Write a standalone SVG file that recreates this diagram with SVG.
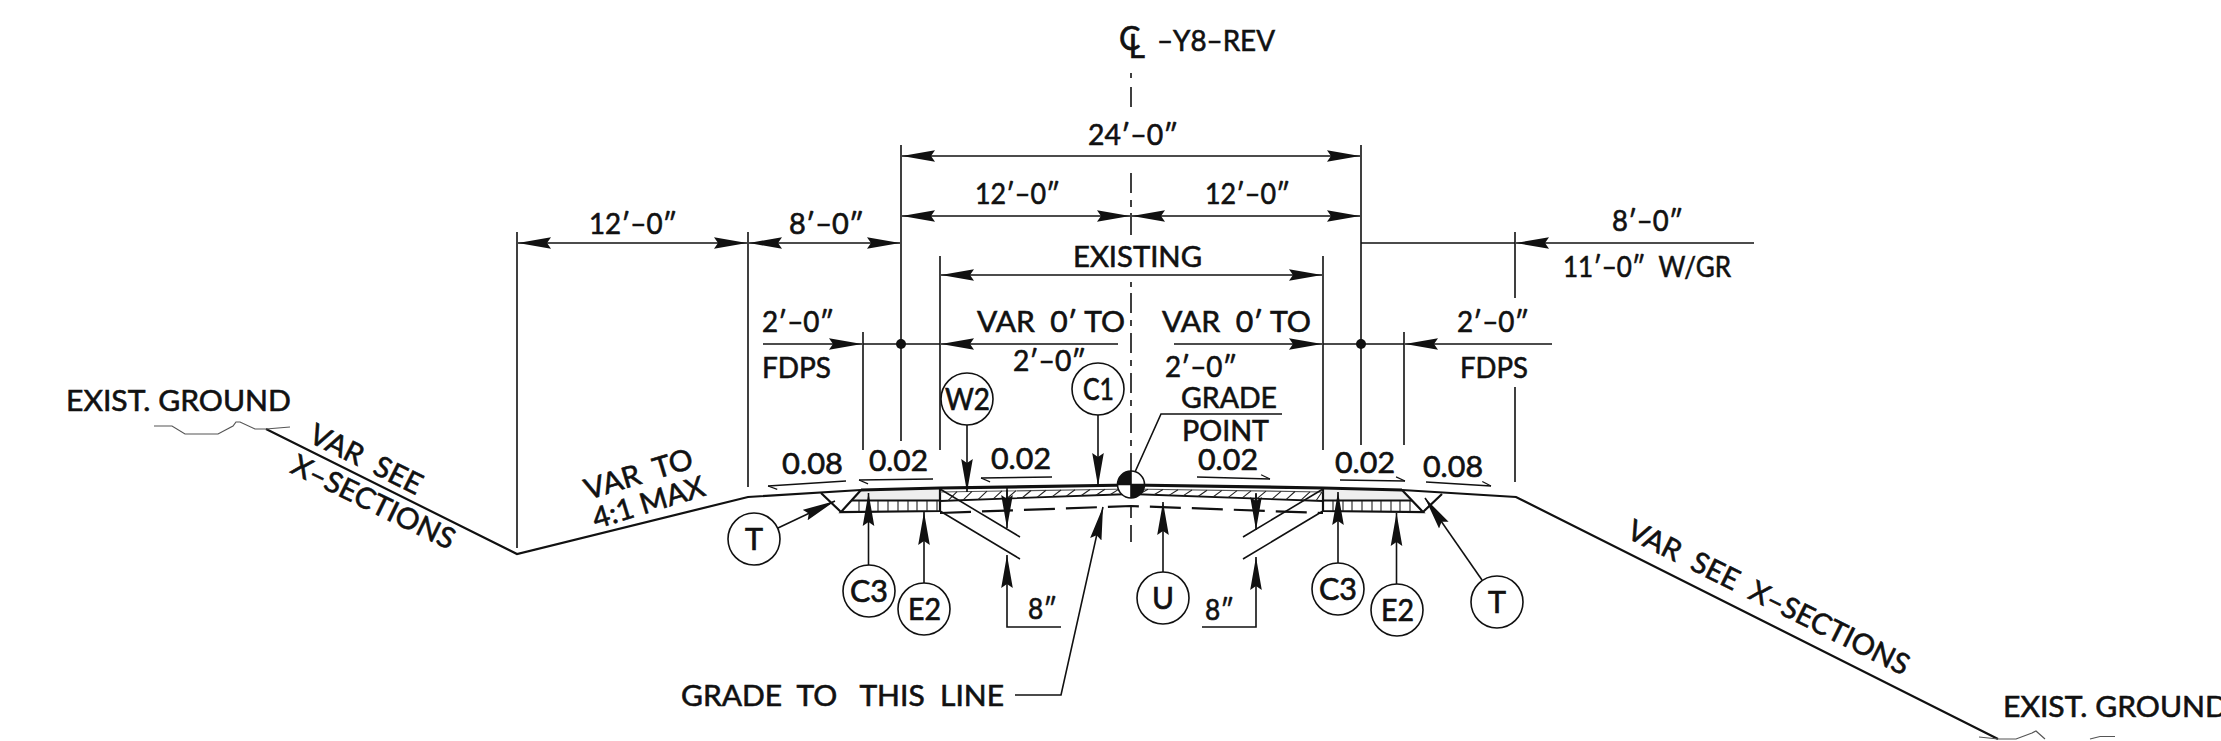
<svg xmlns="http://www.w3.org/2000/svg" width="2221" height="741" viewBox="0 0 2221 741">
<style>
text{font-family:"Lato","Liberation Sans",sans-serif;font-size:29px;fill:#111;stroke:#111;stroke-width:.6;white-space:pre}
.n{font-size:31px;stroke-width:.7}
line,path,polyline,circle{fill:none;stroke:#111;stroke-linecap:butt}
.d{stroke-width:1.6}
.g{stroke-width:2.2}
.l{stroke-width:1.8}
.t{stroke-width:1.2;stroke:#555}
.h{stroke-width:1.1;stroke:#222}
.b{stroke-width:3.2}
.c{fill:#fff;stroke-width:1.6}
.a{marker-end:url(#ar)}
.s{marker-end:url(#ha)}
.f{fill:#111;stroke:none}
</style>
<defs>
<marker id="ar" markerUnits="userSpaceOnUse" markerWidth="36" markerHeight="14" refX="33" refY="7" orient="auto"><path d="M33 7L0 1.2L4 7L0 12.8Z" style="fill:#111;stroke:none"/></marker>
<marker id="ha" markerUnits="userSpaceOnUse" markerWidth="12" markerHeight="8" refX="10" refY="5" orient="auto"><path d="M10 5L1 1" style="fill:none;stroke:#111;stroke-width:1.2"/></marker>
</defs>
<rect width="2221" height="741" fill="#fff"/>
<g id="ground">
<path class="g" d="M266 429L517 554L748 497L861 490"/>
<path class="t" d="M154 426H172L185 434H218L233 426L236 422H240L255 429H266L290 427"/>
<path class="g" d="M1402 490L1516 497L1998 739"/>
<path class="t" d="M1979 737L1998 739H2016L2032 733L2036 731L2045 739M2090 739L2100 736.5H2115"/>
</g>
<g id="pavement">
<path style="fill:#eee;stroke:none" d="M861 490L940 488V500.5H851ZM1323 488L1402 490L1412 500.5H1323Z"/>
<path class="b" d="M861 490L940 488L1131 485L1323 488L1402 490"/>
<path class="g" d="M861 490L841 512L940 511V487M821 493L841 512M1402 490L1423 512L1323 511V487M1423 512L1442 494"/>
<path class="l" d="M852 500.5H940M1323 500.5H1412"/>
<path class="h" d="M859 501V511M869 501V511M878 501V511M888 501V511M898 501V511M908 501V511M917 501V511M927 501V511M937 501V511M1333 501V511M1343 501V511M1352 501V511M1362 501V511M1372 501V511M1381 501V511M1391 501V511M1400 501V511M1410 501V511"/>
<path class="t" d="M940 492L1131 489L1323 492"/>
<path class="l" d="M940 501L1131 494L1323 501"/>
<path class="h" d="M948 500.7L957 491.6M963 500.2L972 491.4M978 499.6L987 491.1M993 499.1L1002 490.9M1007 498.5L1016 490.7M1022 498L1031 490.5M1037 497.4L1046 490.2M1052 496.9L1061 490M1066 496.4L1075 489.8M1081 495.8L1090 489.5M1096 495.3L1105 489.3M1110 494.8L1119 489.1M1125 494.2L1134 488.9M1139 494.3L1148 489.3M1154 494.8L1163 489.5M1169 495.4L1178 489.7M1183 495.9L1192 490M1198 496.5L1207 490.2M1213 497L1222 490.4M1228 497.6L1237 490.6M1242 498.1L1251 490.9M1257 498.6L1266 491.1M1272 499.2L1281 491.3M1286 499.7L1295 491.5M1301 500.2L1310 491.8M1316 500.8L1322 492"/>
<path class="g" stroke-dasharray="31 11" d="M940 513L1131 506L1323 513"/>
<path class="d" d="M940 489L1020 537M940 511L1020 559M1323 489L1243 537M1323 511L1243 559"/>
</g>
<g id="centerline">
<path class="d" d="M1131 73V78M1131 87V107M1131 173V193M1131 200V207M1131 213V235M1131 282V287M1131 293V313M1131 320V326M1131 333V353M1131 360V366M1131 373V393M1131 400V406M1131 413V433M1131 440V446M1131 453V473M1131 505V518M1131 525V542"/>
</g>
<g id="connectors">
<path class="d" d="M517 232V548M748 232V487M863 332V450M901 145V441M940 256V450M1323 256V450M1361 145V445M1404 332V445M1515 232V298M1515 387V482"/>
<line class="d a" x1="633" y1="243" x2="518" y2="243"/>
<line class="d a" x1="633" y1="243" x2="747" y2="243"/>
<line class="d a" x1="825" y1="243" x2="749" y2="243"/>
<line class="d a" x1="825" y1="243" x2="900" y2="243"/>
<line class="d a" x1="1130" y1="156" x2="902" y2="156"/>
<line class="d a" x1="1130" y1="156" x2="1360" y2="156"/>
<line class="d a" x1="1015" y1="216" x2="902" y2="216"/>
<line class="d a" x1="1015" y1="216" x2="1130" y2="216"/>
<line class="d a" x1="1245" y1="216" x2="1132" y2="216"/>
<line class="d a" x1="1245" y1="216" x2="1360" y2="216"/>
<line class="d a" x1="1130" y1="275" x2="941" y2="275"/>
<line class="d a" x1="1130" y1="275" x2="1322" y2="275"/>
<path class="d" d="M863 344H940M1323 344H1404M1361 243H1515"/>
<line class="d a" x1="1754" y1="243" x2="1516" y2="243"/>
<line class="d a" x1="763" y1="344" x2="862" y2="344"/>
<line class="d a" x1="1118" y1="344" x2="941" y2="344"/>
<line class="d a" x1="1174" y1="344" x2="1322" y2="344"/>
<line class="d a" x1="1552" y1="344" x2="1405" y2="344"/>
<circle class="f" cx="901" cy="344" r="5"/>
<circle class="f" cx="1361" cy="344" r="5"/>
<line class="d a" x1="967" y1="425" x2="967" y2="492"/>
<line class="d a" x1="1098" y1="415" x2="1098" y2="486"/>
<line class="d a" x1="868.500" y1="565" x2="868.500" y2="493"/>
<line class="d a" x1="924" y1="583" x2="924" y2="512"/>
<line class="d a" x1="778" y1="528" x2="835" y2="501"/>
<line class="d a" x1="1163" y1="572" x2="1163" y2="502"/>
<line class="d a" x1="1338" y1="563" x2="1338" y2="492"/>
<line class="d a" x1="1396.500" y1="584" x2="1396.500" y2="513"/>
<line class="d a" x1="1482" y1="580" x2="1425" y2="498"/>
<path class="d" d="M1007 488V500"/>
<line class="d a" x1="1007" y1="490" x2="1007" y2="528"/>
<path class="d a" d="M1061 627H1007V555"/>
<path class="d" d="M1256 493V505"/>
<line class="d a" x1="1256" y1="494" x2="1256" y2="530"/>
<path class="d a" d="M1202 627H1256V557"/>
<path class="d a" d="M1015 695H1061L1103 507"/>
<path class="d" d="M1282 414H1161L1135 472"/>
<line class="d s" x1="846" y1="481" x2="768" y2="486"/>
<line class="d s" x1="933" y1="479" x2="859" y2="480"/>
<line class="d s" x1="1052" y1="477" x2="981" y2="478"/>
<line class="d s" x1="1197" y1="477" x2="1270" y2="479"/>
<line class="d s" x1="1340" y1="480" x2="1405" y2="481"/>
<line class="d s" x1="1426" y1="482" x2="1491" y2="486"/>
</g>
<g id="grade-point">
<circle cx="1131" cy="484.500" r="13.500" style="fill:#fff;stroke-width:1.6"/>
<path class="f" d="M1131 484.500V471A13.500 13.500 0 0 0 1117.500 484.500ZM1131 484.500H1144.500A13.500 13.500 0 0 1 1131 498Z"/>
<path class="d" d="M1117.500 484.500H1144.500M1131 471V498"/>
</g>
<g id="node-w2"><circle class="c" cx="967" cy="399" r="26"/><text class="n" x="945" y="410" textLength="45" lengthAdjust="spacingAndGlyphs">W2</text></g>
<g id="node-c1"><circle class="c" cx="1098" cy="389" r="26"/><text class="n" x="1083" y="400" textLength="31" lengthAdjust="spacingAndGlyphs">C1</text></g>
<g id="node-t-left"><circle class="c" cx="754" cy="539" r="26"/><text class="n" x="745" y="550" textLength="18" lengthAdjust="spacingAndGlyphs">T</text></g>
<g id="node-c3-left"><circle class="c" cx="869" cy="591" r="26"/><text class="n" x="850" y="602" textLength="38" lengthAdjust="spacingAndGlyphs">C3</text></g>
<g id="node-e2-left"><circle class="c" cx="924" cy="609" r="26"/><text class="n" x="908" y="620" textLength="33" lengthAdjust="spacingAndGlyphs">E2</text></g>
<g id="node-u"><circle class="c" cx="1163" cy="598" r="26"/><text class="n" x="1152" y="609" textLength="22" lengthAdjust="spacingAndGlyphs">U</text></g>
<g id="node-c3-right"><circle class="c" cx="1338" cy="589" r="26"/><text class="n" x="1319" y="600" textLength="38" lengthAdjust="spacingAndGlyphs">C3</text></g>
<g id="node-e2-right"><circle class="c" cx="1397" cy="610" r="26"/><text class="n" x="1381" y="621" textLength="33" lengthAdjust="spacingAndGlyphs">E2</text></g>
<g id="node-t-right"><circle class="c" cx="1497" cy="602" r="26"/><text class="n" x="1488" y="613" textLength="18" lengthAdjust="spacingAndGlyphs">T</text></g>
<g id="labels">
<text x="1119" y="50" style="font-size:32px">C<tspan dx="-12" dy="8">L</tspan></text>
<text x="1157" y="51" textLength="118" lengthAdjust="spacingAndGlyphs">–Y8–REV</text>
<text x="1088" y="145" textLength="90" lengthAdjust="spacingAndGlyphs">24′–0″</text>
<text x="975" y="204" textLength="85" lengthAdjust="spacingAndGlyphs">12′–0″</text>
<text x="1205" y="204" textLength="85" lengthAdjust="spacingAndGlyphs">12′–0″</text>
<text x="589" y="234" textLength="88" lengthAdjust="spacingAndGlyphs">12′–0″</text>
<text x="789" y="234" textLength="75" lengthAdjust="spacingAndGlyphs">8′–0″</text>
<text x="1612" y="231" textLength="71" lengthAdjust="spacingAndGlyphs">8′–0″</text>
<text x="1563" y="277" textLength="168" lengthAdjust="spacingAndGlyphs">11′–0″  W/GR</text>
<text x="1073" y="267" textLength="129" lengthAdjust="spacingAndGlyphs">EXISTING</text>
<text x="977" y="332" textLength="148" lengthAdjust="spacingAndGlyphs">VAR  0′ TO</text>
<text x="1162" y="332" textLength="149" lengthAdjust="spacingAndGlyphs">VAR  0′ TO</text>
<text x="1013" y="371" textLength="73" lengthAdjust="spacingAndGlyphs">2′–0″</text>
<text x="1165" y="377" textLength="72" lengthAdjust="spacingAndGlyphs">2′–0″</text>
<text x="762" y="332" textLength="72" lengthAdjust="spacingAndGlyphs">2′–0″</text>
<text x="762" y="378" textLength="69" lengthAdjust="spacingAndGlyphs">FDPS</text>
<text x="1457" y="332" textLength="72" lengthAdjust="spacingAndGlyphs">2′–0″</text>
<text x="1460" y="378" textLength="68" lengthAdjust="spacingAndGlyphs">FDPS</text>
<text x="1181" y="408" textLength="96" lengthAdjust="spacingAndGlyphs">GRADE</text>
<text x="1182" y="441" textLength="87" lengthAdjust="spacingAndGlyphs">POINT</text>
<text x="782" y="474" textLength="61" lengthAdjust="spacingAndGlyphs">0.08</text>
<text x="869" y="471" textLength="59" lengthAdjust="spacingAndGlyphs">0.02</text>
<text x="991" y="469" textLength="60" lengthAdjust="spacingAndGlyphs">0.02</text>
<text x="1198" y="470" textLength="60" lengthAdjust="spacingAndGlyphs">0.02</text>
<text x="1335" y="473" textLength="60" lengthAdjust="spacingAndGlyphs">0.02</text>
<text x="1423" y="477" textLength="60" lengthAdjust="spacingAndGlyphs">0.08</text>
<text x="1028" y="619" textLength="29" lengthAdjust="spacingAndGlyphs">8″</text>
<text x="1205" y="620" textLength="29" lengthAdjust="spacingAndGlyphs">8″</text>
<text x="681" y="706" textLength="323" lengthAdjust="spacingAndGlyphs">GRADE  TO   THIS  LINE</text>
<text x="66" y="411" textLength="225" lengthAdjust="spacingAndGlyphs">EXIST. GROUND</text>
<text x="2003" y="717" textLength="225" lengthAdjust="spacingAndGlyphs">EXIST. GROUND</text>
<text transform="translate(307 441) rotate(26.500)" textLength="122" lengthAdjust="spacingAndGlyphs">VAR  SEE</text>
<text transform="translate(289 472) rotate(26)" textLength="178" lengthAdjust="spacingAndGlyphs">X–SECTIONS</text>
<text transform="translate(588 500) rotate(-17)" textLength="112" lengthAdjust="spacingAndGlyphs">VAR  TO</text>
<text transform="translate(596 529) rotate(-17)" textLength="116" lengthAdjust="spacingAndGlyphs">4:1 MAX</text>
<text transform="translate(1625 537) rotate(26.500)" textLength="311" lengthAdjust="spacingAndGlyphs">VAR  SEE  X–SECTIONS</text>
</g>
</svg>
